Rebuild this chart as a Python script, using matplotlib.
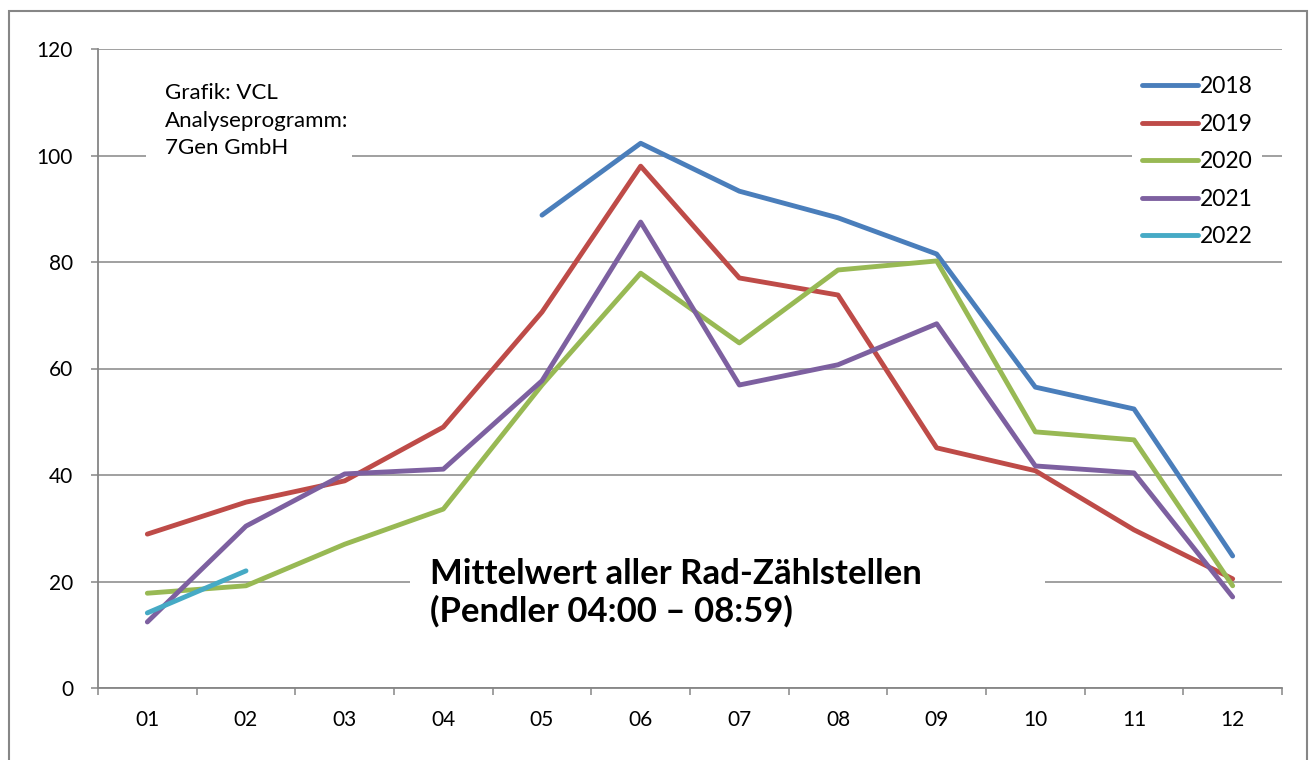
import matplotlib
matplotlib.use("Agg")
import matplotlib.pyplot as plt
from matplotlib.patches import Rectangle
import numpy as np

plt.rcParams['font.family'] = ['Lato', 'DejaVu Sans']

months = ["01", "02", "03", "04", "05", "06", "07", "08", "09", "10", "11", "12"]

y2018 = [None, None, None, None, 88.8, 102.3, 93.3, 88.3, 81.5, 56.5, 52.4, 24.8]
y2019 = [28.9, 34.9, 38.9, 49.0, 70.6, 98.0, 77.0, 73.8, 45.1, 40.8, 29.7, 20.5]
y2020 = [17.8, 19.2, 27.0, 33.6, 56.9, 77.9, 64.8, 78.5, 80.2, 48.1, 46.6, 19.2]
y2021 = [12.4, 30.4, 40.2, 41.1, 57.7, 87.5, 56.9, 60.7, 68.4, 41.7, 40.4, 17.1]
y2022 = [14.1, 22.0, None, None, None, None, None, None, None, None, None, None]

series = {"2018": y2018, "2019": y2019, "2020": y2020, "2021": y2021, "2022": y2022}
colors = ["#4A7EBB", "#BE4B48", "#98B954", "#7D60A0", "#46AAC5"]

yticks = [0, 20, 40, 60, 80, 100, 120]

title = "Mittelwert aller Rad-Zählstellen\n(Pendler 04:00 – 08:59)"
credit = "Grafik: VCL\nAnalyseprogramm:\n7Gen GmbH"

W, H = 1311, 760
fig = plt.figure(figsize=(W / 100, H / 100), dpi=100)
ax = fig.add_axes([98 / W, 1 - 688 / H, (1282 - 98) / W, (688 - 49) / H])

# outer chart border
fig.patches.append(Rectangle((9 / W, -0.05), (1307 - 9) / W, 1.05 - 11 / H,
                             transform=fig.transFigure, fill=False,
                             edgecolor="#868686", linewidth=1.5))

x = np.arange(len(months))
for idx, (name, vals) in enumerate(series.items()):
    v = np.array([np.nan if a is None else a for a in vals], dtype=float)
    ax.plot(x, v, '-', color=colors[idx], linewidth=3.5, label=name,
            solid_capstyle='round', zorder=3)

ax.set_xlim(-0.5, len(months) - 0.5)
ax.set_ylim(0, 120)
ax.set_yticks(yticks)
ax.set_xticks(x)
ax.set_xticklabels(months)
ax.set_xticks(np.arange(-0.5, len(months)), minor=True)

ax.grid(axis='y', color="#868686", linewidth=1.1, zorder=0)
ax.set_axisbelow(True)
for s in ["top", "right"]:
    ax.spines[s].set_visible(False)
for s in ["left", "bottom"]:
    ax.spines[s].set_color("#868686")
    ax.spines[s].set_linewidth(1.3)

ax.tick_params(axis='y', length=5, width=1.1, color="#868686", pad=13, labelsize=15)
ax.tick_params(axis='x', which='major', length=0, pad=16, labelsize=15)
ax.tick_params(axis='x', which='minor', length=5, width=1.1, color="#868686")

# white boxes that interrupt gridlines behind the text blocks
def box(x0, y0, x1, y1):
    ax.add_patch(Rectangle(((x0 - 98) / 1184, (688 - y1) / 639),
                           (x1 - x0) / 1184, (y1 - y0) / 639,
                           transform=ax.transAxes, facecolor="white",
                           edgecolor="none", zorder=1))

box(146, 70, 352, 175)
box(410, 545, 1045, 650)

ax.text((165 - 98) / 1184, (688 - 83) / 639, credit, transform=ax.transAxes,
        fontsize=16, va='top', ha='left', linespacing=1.48, zorder=4)
ax.text((430 - 98) / 1184, (688 - 558) / 639, title, transform=ax.transAxes,
        fontsize=25, fontweight='bold', va='top', ha='left', linespacing=1.2,
        zorder=4)

leg = ax.legend(loc='upper right', bbox_to_anchor=((1262 - 98) / 1184, (688 - 67) / 639),
                frameon=True, fancybox=False, fontsize=16.5, handlelength=2.45,
                handletextpad=0.1, labelspacing=0.72, borderpad=0.4,
                borderaxespad=0)
leg.get_frame().set_edgecolor("none")
leg.get_frame().set_facecolor("white")
leg.get_frame().set_alpha(1)

fig.savefig("out.png", dpi=100)
